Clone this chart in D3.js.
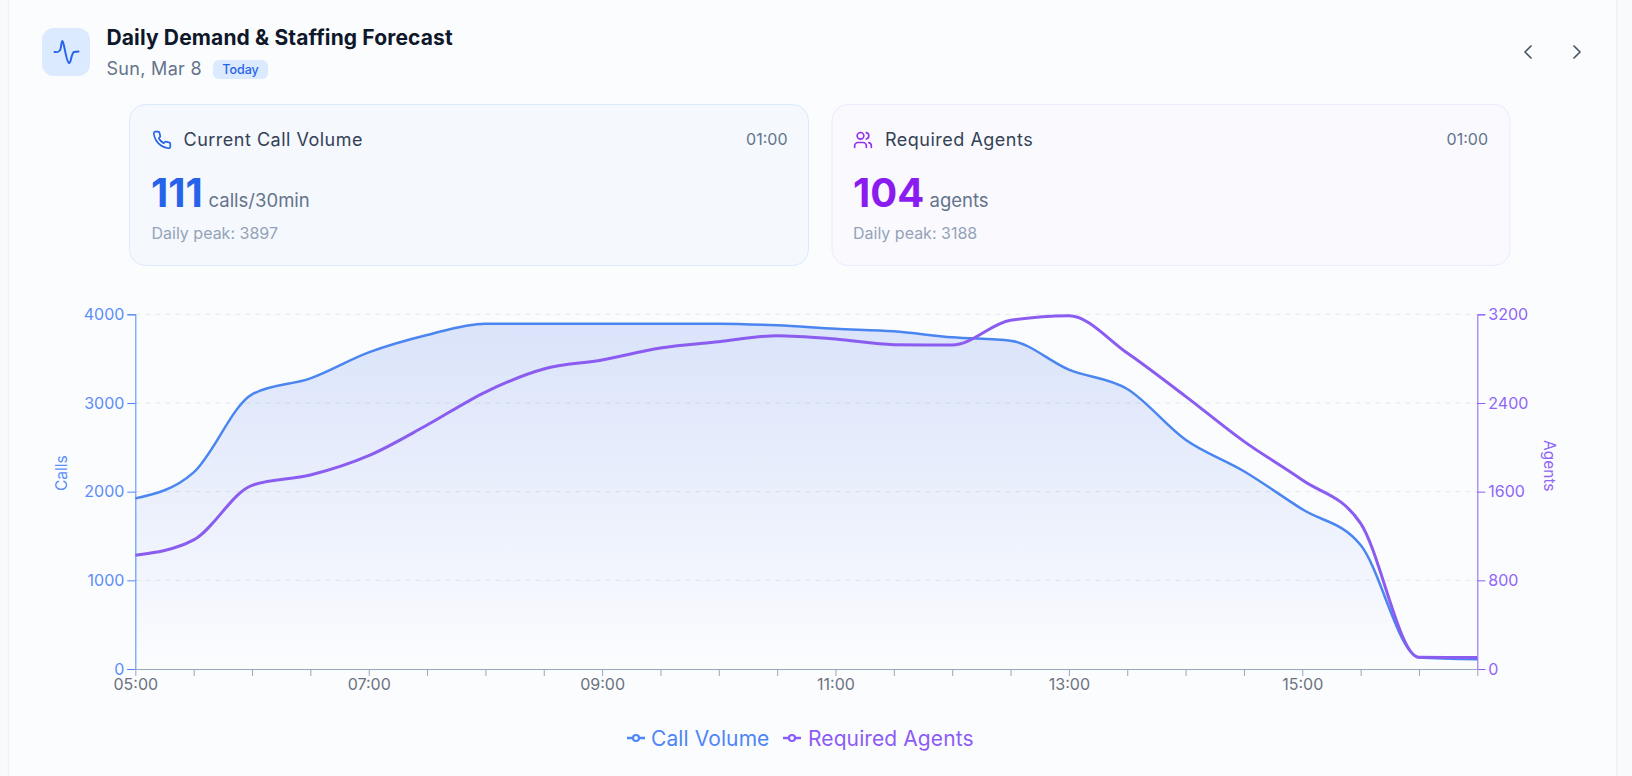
<!DOCTYPE html>
<html><head><meta charset="utf-8">
<script src="https://cdn.jsdelivr.net/npm/d3@7/dist/d3.min.js"></script>
<style>
html,body{margin:0;padding:0;background:#f8fafc;}
svg{display:block;font-family:Inter,sans-serif;}
</style></head><body><svg id="c" width="1632" height="776"></svg>
<script>
const categories=["05:00","05:30","06:00","06:30","07:00","07:30","08:00","08:30","09:00","09:30","10:00","10:30","11:00","11:30","12:00","12:30","13:00","13:30","14:00","14:30","15:00","15:30","16:00","16:30"];
const callVolume=[1924,2218,3098,3278,3571,3767,3895,3895,3895,3895,3895,3876,3838,3808,3741,3703,3376,3158,2586,2230,1801,1398,131,111];
const requiredAgents=[1026,1165,1657,1750,1925,2201,2499,2707,2788,2896,2953,3007,2977,2926,2923,3146,3188,2851,2460,2054,1705,1314,105,104];
const callTicks=[0,1000,2000,3000,4000];
const agentTicks=[0,800,1600,2400,3200];
const labeledTimes=["05:00","07:00","09:00","11:00","13:00","15:00"];

const svg=d3.select("#c");
const defs=svg.append("defs");
const g=defs.append("linearGradient").attr("id","area").attr("x1",0).attr("y1",0).attr("x2",0).attr("y2",1);
g.append("stop").attr("offset",0).attr("stop-color","#3a6ae6").attr("stop-opacity",.17);
g.append("stop").attr("offset",1).attr("stop-color","#3a6ae6").attr("stop-opacity",0);

function T(x,y,t,size,fill,weight,anchor,ls){
  return svg.append("text").attr("x",x).attr("y",y).text(t).attr("font-size",size).attr("fill",fill).attr("font-weight",weight||400).attr("text-anchor",anchor||"start").attr("letter-spacing",ls||0);
}
function icon(x,y,size,stroke,draw,sw){
  const n=svg.append("g").attr("transform",`translate(${x},${y}) scale(${size/24})`).attr("fill","none").attr("stroke",stroke).attr("stroke-width",sw||2).attr("stroke-linecap","round").attr("stroke-linejoin","round");
  draw(n);
}
// page card
svg.append("rect").attr("x",8.5).attr("y",-20).attr("width",1608.5).attr("height",820).attr("rx",16).attr("fill","#fbfcfe").attr("stroke","#eef1f5").attr("stroke-width",1.5);

// header
svg.append("rect").attr("x",42).attr("y",28).attr("width",48).attr("height",48).attr("rx",12).attr("fill","#dbeafe");
svg.append("path").attr("d","M54.5 52 C58 52.5 59.5 52 60.5 49 C61.5 45 61.5 41 62.5 41 C64 41 66 62 69 63 C71 63.5 71.5 52.5 74 52 L78.5 51.5").attr("fill","none").attr("stroke","#2563eb").attr("stroke-width",2).attr("stroke-linecap","round");
T(106.5,45,"Daily Demand & Staffing Forecast",21,"#0f172a",700,"start",.13);
T(106.5,75,"Sun, Mar 8",18,"#64748b",400,"start",.3);
svg.append("rect").attr("x",213).attr("y",60).attr("width",55).attr("height",19).attr("rx",6).attr("fill","#dbeafe");
T(240.5,74,"Today",12.5,"#2563eb",500,"middle");
icon(1516,40,24,"#475569",n=>n.append("path").attr("d","M15 18l-6-6 6-6"),1.7);
icon(1565,40,24,"#475569",n=>n.append("path").attr("d","M9 18l6-6-6-6"),1.7);

// stat cards
function card(x,w,bg,bd){svg.append("rect").attr("x",x+.5).attr("y",104.5).attr("width",w).attr("height",161).attr("rx",16).attr("fill",bg).attr("stroke",bd);}
card(129,679,"#f5f8fd","#dbeafe");
card(831.5,678,"#faf9fe","#ede9fe");
icon(152,130,20,"#2563eb",n=>n.append("path").attr("d","M22 16.92v3a2 2 0 0 1-2.18 2 19.79 19.79 0 0 1-8.63-3.07 19.5 19.5 0 0 1-6-6 19.79 19.79 0 0 1-3.07-8.67A2 2 0 0 1 4.11 2h3a2 2 0 0 1 2 1.72 12.84 12.84 0 0 0 .7 2.81 2 2 0 0 1-.45 2.11L8.09 9.91a16 16 0 0 0 6 6l1.27-1.27a2 2 0 0 1 2.11-.45 12.84 12.84 0 0 0 2.81.7A2 2 0 0 1 22 16.92z"));
icon(853,130,20,"#9333ea",n=>{
  n.append("path").attr("d","M16 21v-2a4 4 0 0 0-4-4H6a4 4 0 0 0-4 4v2");
  n.append("circle").attr("cx",9).attr("cy",7).attr("r",4);
  n.append("path").attr("d","M22 21v-2a4 4 0 0 0-3-3.87");
  n.append("path").attr("d","M16 3.13a4 4 0 0 1 0 7.75");
});
T(183.5,146,"Current Call Volume",18,"#334155",400,"start",.5);
T(787.5,145,"01:00",16,"#64748b",400,"end");
T(151,207,"111",40,"#2563eb",700);
T(208.5,207,"calls/30min",18.5,"#64748b");
T(151.5,239,"Daily peak: 3897",16,"#94a3b8");
T(885,146,"Required Agents",18,"#334155",400,"start",.5);
T(1488,145,"01:00",16,"#64748b",400,"end");
T(853,207,"104",40,"#8b1cf0",700);
T(929.5,207,"agents",18.5,"#64748b");
T(853,239,"Daily peak: 3188",16,"#94a3b8");

// chart
const x=d3.scalePoint().domain(categories).range([135.33,1477.33]);
const yL=d3.scaleLinear().domain([0,4000]).range([669,314.33]);
const yR=d3.scaleLinear().domain([0,3200]).range([669,314.33]);
const curve=d3.curveMonotoneX;

svg.append("g").selectAll("line").data(callTicks.slice(1)).join("line")
 .attr("x1",x.range()[0]).attr("x2",x.range()[1]).attr("y1",d=>yL(d)).attr("y2",d=>yL(d))
 .attr("stroke","#e5e7eb").attr("stroke-dasharray","5 5");

svg.append("path").datum(callVolume).attr("fill","url(#area)")
 .attr("d",d3.area().x((d,i)=>x(categories[i])).y0(yL(0)).y1(d=>yL(d)).curve(curve));
svg.append("path").datum(callVolume).attr("fill","none").attr("stroke","#4a85f0").attr("stroke-width",2.5)
 .attr("d",d3.line().x((d,i)=>x(categories[i])).y(d=>yL(d)).curve(curve));
svg.append("path").datum(requiredAgents).attr("fill","none").attr("stroke","#8b5cf0").attr("stroke-width",3)
 .attr("d",d3.line().x((d,i)=>x(categories[i])).y(d=>yR(d)).curve(curve));

function styleAxis(sel,color,txt,size){
  sel.selectAll("path").attr("stroke",color);
  sel.selectAll("line").attr("stroke",color);
  sel.selectAll("text").attr("fill",txt).attr("font-size",size).attr("font-family","Inter,sans-serif");
}
const fmt=d3.format("d");
const axL=svg.append("g").attr("transform",`translate(${x.range()[0]},0)`)
 .call(d3.axisLeft(yL).tickValues(callTicks).tickFormat(fmt).tickSize(8).tickSizeOuter(8).tickPadding(3));
styleAxis(axL,"#4f86f7","#5b8ef8",16);
const axR=svg.append("g").attr("transform",`translate(${x.range()[1]},0)`)
 .call(d3.axisRight(yR).tickValues(agentTicks).tickFormat(fmt).tickSize(8).tickSizeOuter(8).tickPadding(3));
styleAxis(axR,"#8b5cf6","#8f66f7",16);
const axB=svg.append("g").attr("transform",`translate(0,${yL(0)})`)
 .call(d3.axisBottom(x).tickSize(7).tickSizeOuter(0).tickPadding(3).tickFormat(d=>labeledTimes.includes(d)?d:""));
styleAxis(axB,"#9aa7bb","#6b7280",16);

svg.append("text").attr("transform","translate(67,491) rotate(-90)").text("Calls").attr("font-size",15.5).attr("fill","#5b8ef8");
svg.append("text").attr("transform","translate(1544,440) rotate(90)").text("Agents").attr("font-size",15.5).attr("fill","#8f66f7");

// legend
function legend(x0,tx,label,color){
  const gg=svg.append("g");
  gg.append("line").attr("x1",x0).attr("x2",x0+18).attr("y1",738).attr("y2",738).attr("stroke",color).attr("stroke-width",2.5);
  gg.append("circle").attr("cx",x0+9).attr("cy",738).attr("r",3).attr("fill","#fbfcfe").attr("stroke",color).attr("stroke-width",2.2);
  T(tx,745.5,label,21,color,400,"start",.1);
}
legend(627,651,"Call Volume","#4f86f7");
legend(783,808,"Required Agents","#8b5cf6");
</script></body></html>
